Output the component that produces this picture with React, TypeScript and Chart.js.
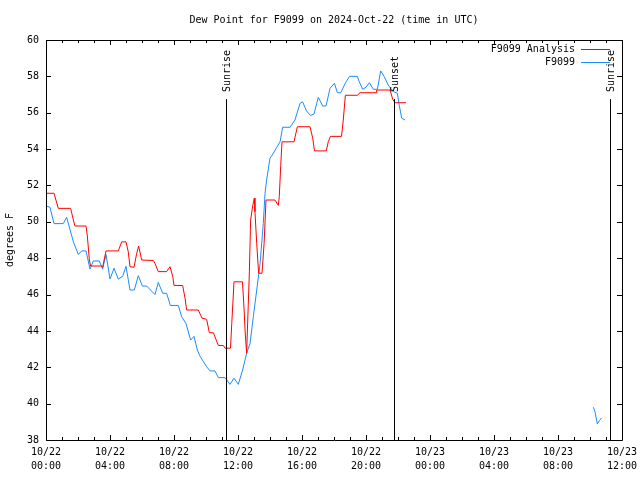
import React, { useEffect, useRef } from "react";
import { Chart, registerables } from "chart.js";

Chart.register(...registerables);

const TITLE = "Dew Point for F9099 on 2024-Oct-22 (time in UTC)";
const Y_TITLE = "degrees F";
const FONT = "'DejaVu Sans Mono', 'Liberation Mono', monospace";

const X_MIN = 0;
const X_MAX = 36;
const X_TICK_HOURS = [0, 4, 8, 12, 16, 20, 24, 28, 32, 36];
const X_TICK_LABELS = [
  ["10/22", "00:00"],
  ["10/22", "04:00"],
  ["10/22", "08:00"],
  ["10/22", "12:00"],
  ["10/22", "16:00"],
  ["10/22", "20:00"],
  ["10/23", "00:00"],
  ["10/23", "04:00"],
  ["10/23", "08:00"],
  ["10/23", "12:00"],
];
const Y_MIN = 38;
const Y_MAX = 60;
const Y_STEP = 2;

const ANALYSIS_LABEL = "F9099 Analysis";
const ANALYSIS_HOURS = [
  0, 0.5, 0.77, 1.54, 1.71, 1.81, 2.5, 2.58, 2.71, 2.79, 3.48, 3.54, 3.75, 4.52, 4.73, 5.0,
  5.14, 5.25, 5.5, 5.67, 5.79, 5.98, 6.71, 6.81, 7.02, 7.54, 7.75, 7.92, 8.0, 8.54, 8.69, 8.79,
  9.52, 9.75, 10.04, 10.21, 10.46, 10.77, 11.08, 11.19, 11.53, 11.61, 11.75, 12.28, 12.38, 12.44,
  12.54, 12.64, 12.71, 12.79, 12.92, 13.02, 13.06, 13.17, 13.29, 13.5, 13.63, 13.75, 14.31, 14.52,
  14.58, 14.67, 14.75, 15.5, 15.71, 16.5, 16.67, 16.78, 17.52, 17.64, 17.78, 18.47, 18.58, 18.71,
  19.46, 19.63, 20.63, 20.67, 21.5, 21.67, 21.81, 22.5,
];
const ANALYSIS_VALUES = [
  51.57, 51.57, 50.74, 50.74, 50.1, 49.77, 49.77, 49.27, 47.9, 47.57, 47.57, 47.5, 48.4, 48.4, 48.9, 48.9,
  48.36, 47.53, 47.5, 48.27, 48.67, 47.9, 47.87, 47.72, 47.26, 47.26, 47.53, 47.0, 46.5, 46.5, 45.8, 45.15,
  45.15, 44.7, 44.64, 43.9, 43.9, 43.2, 43.2, 43.05, 43.05, 44.4, 46.7, 46.7, 45.2, 44.05,
  42.77, 45.4, 47.25, 50.1, 50.9, 51.3, 50.56, 48.8, 47.17, 47.17, 48.8, 51.2, 51.2, 50.9,
  51.38, 53.1, 54.4, 54.4, 55.23, 55.23, 54.6, 53.9, 53.9, 54.4, 54.7, 54.7, 55.6, 56.96,
  56.96, 57.1, 57.1, 57.25, 57.25, 56.74, 56.55, 56.55,
];

const OBS_LABEL = "F9099";
const OBS_HOURS = [
  0, 0.25, 0.5, 1.08, 1.29, 1.71, 2.02, 2.23, 2.5, 2.75, 2.96, 3.33, 3.54, 3.75, 4.0, 4.25,
  4.52, 4.79, 5.0, 5.25, 5.52, 5.77, 6.02, 6.29, 6.81, 7.02, 7.29, 7.54, 7.77, 8.27, 8.48, 8.75,
  9.04, 9.25, 9.46, 9.63, 10.04, 10.25, 10.56, 10.77, 11.19, 11.5, 11.75, 12.02, 12.29, 12.54,
  12.75, 12.96, 13.17, 13.38, 13.58, 13.69, 13.79, 14.0, 14.21, 14.42, 14.63, 14.79, 15.25, 15.56,
  15.88, 16.04, 16.28, 16.53, 16.75, 17.02, 17.29, 17.5, 17.75, 18.03, 18.21, 18.42, 18.72, 18.97,
  19.46, 19.58, 19.79, 20.0, 20.21, 20.46, 20.71, 20.92, 21.13, 21.39, 21.71, 21.96, 22.08, 22.23,
  22.44, 28, 34.21, 34.31, 34.46, 34.58, 34.73,
];
const OBS_VALUES = [
  50.87, 50.8, 49.9, 49.9, 50.25, 48.9, 48.2, 48.4, 48.4, 47.4, 47.85, 47.85, 47.4, 48.2, 46.85, 47.45,
  46.85, 47.0, 47.55, 46.25, 46.25, 47.04, 46.47, 46.47, 46.0, 46.67, 46.07, 46.07, 45.4, 45.4, 44.78, 44.4,
  43.5, 43.7, 42.95, 42.6, 42.03, 41.8, 41.8, 41.43, 41.43, 41.06, 41.4, 41.06, 41.85, 42.77,
  43.3, 44.8, 46.25, 47.7, 49.9, 51.57, 52.3, 53.5, 53.77, 54.1, 54.4, 55.2, 55.2, 55.6,
  56.52, 56.6, 56.1, 55.85, 55.93, 56.85, 56.37, 56.37, 57.34, 57.62, 57.1, 57.1, 57.65, 58.0,
  58.0, 57.7, 57.29, 57.4, 57.65, 57.29, 57.29, 58.3, 58.0, 57.52, 57.16, 57.07, 56.4, 55.7,
  55.6, null, 39.8, 39.56, 38.88, 39.06, 39.22,
];

const EVENT_LABELS = ["Sunrise", "Sunset", "Sunrise"];
const EVENT_HOURS = [11.22, 21.77, 35.23];
const EVENT_LINE_TOP = 56.75;

const ANALYSIS_COLOR = "#ff0000";
const OBS_COLOR = "#1a8cff";

const decorPlugin = {
  id: "decor",
  afterDraw(chart: any) {
    const ctx = chart.ctx;
    const area = chart.chartArea;
    const xs = chart.scales.x;
    const ys = chart.scales.y;
    ctx.save();
    ctx.strokeStyle = "#000";
    ctx.fillStyle = "#000";
    ctx.lineWidth = 1;

    // frame
    ctx.beginPath();
    ctx.rect(Math.round(area.left) + 0.5, Math.round(area.top) + 0.5,
      Math.round(area.right - area.left), Math.round(area.bottom - area.top));
    ctx.stroke();

    // x ticks (major every 4h, minor every hour), inward on bottom and top
    ctx.beginPath();
    for (let h = X_MIN; h <= X_MAX; h += 1) {
      const px = Math.round(xs.getPixelForValue(h)) + 0.5;
      const len = X_TICK_HOURS.includes(h) ? 5 : 3;
      ctx.moveTo(px, Math.round(area.bottom));
      ctx.lineTo(px, Math.round(area.bottom) - len);
      ctx.moveTo(px, Math.round(area.top));
      ctx.lineTo(px, Math.round(area.top) + len);
    }
    // y ticks
    for (let v = Y_MIN; v <= Y_MAX; v += Y_STEP) {
      const py = Math.round(ys.getPixelForValue(v)) + 0.5;
      ctx.moveTo(Math.round(area.left), py);
      ctx.lineTo(Math.round(area.left) + 5, py);
      ctx.moveTo(Math.round(area.right), py);
      ctx.lineTo(Math.round(area.right) - 5, py);
    }
    ctx.stroke();

    // event lines with rotated labels
    ctx.font = `10px ${FONT}`;
    EVENT_HOURS.forEach((h, i) => {
      const px = Math.round(xs.getPixelForValue(h)) + 0.5;
      const top = ys.getPixelForValue(EVENT_LINE_TOP);
      ctx.beginPath();
      ctx.moveTo(px, top);
      ctx.lineTo(px, area.bottom);
      ctx.stroke();
      ctx.save();
      ctx.translate(px + 1, top - 7);
      ctx.rotate(-Math.PI / 2);
      ctx.textAlign = "left";
      ctx.textBaseline = "middle";
      ctx.fillText(EVENT_LABELS[i], 0, 0);
      ctx.restore();
    });

    // legend
    const legend = [
      { label: ANALYSIS_LABEL, color: ANALYSIS_COLOR },
      { label: OBS_LABEL, color: OBS_COLOR },
    ];
    legend.forEach((item, i) => {
      const y = Math.round(area.top) + 9 + i * 13;
      ctx.fillStyle = "#000";
      ctx.textAlign = "right";
      ctx.textBaseline = "middle";
      ctx.fillText(item.label, area.right - 47, y);
      ctx.strokeStyle = item.color;
      ctx.beginPath();
      ctx.moveTo(area.right - 41, y + 0.5);
      ctx.lineTo(area.right - 12, y + 0.5);
      ctx.stroke();
    });

    // title
    ctx.fillStyle = "#000";
    ctx.textAlign = "center";
    ctx.textBaseline = "middle";
    ctx.fillText(TITLE, (area.left + area.right) / 2, 20);

    // y title
    ctx.save();
    ctx.translate(10, (area.top + area.bottom) / 2);
    ctx.rotate(-Math.PI / 2);
    ctx.textAlign = "center";
    ctx.textBaseline = "middle";
    ctx.fillText(Y_TITLE, 0, 0);
    ctx.restore();

    ctx.restore();
  },
};

export default function App() {
  const ref = useRef<HTMLCanvasElement>(null);
  useEffect(() => {
    document.body.style.margin = "0";
    const canvas = ref.current;
    if (!canvas) return;
    const chart = new Chart(canvas, {
      type: "line",
      data: {
        datasets: [
          {
            label: ANALYSIS_LABEL,
            data: ANALYSIS_HOURS.map((h, i) => ({ x: h, y: ANALYSIS_VALUES[i] })),
            borderColor: ANALYSIS_COLOR,
            borderWidth: 1,
            pointRadius: 0,
            tension: 0,
            spanGaps: false,
          },
          {
            label: OBS_LABEL,
            data: OBS_HOURS.map((h, i) => ({ x: h, y: OBS_VALUES[i] })),
            borderColor: OBS_COLOR,
            borderWidth: 1,
            pointRadius: 0,
            tension: 0,
            spanGaps: false,
          },
        ],
      },
      options: {
        animation: false,
        responsive: false,
        devicePixelRatio: 1,
        layout: { padding: { top: 40, right: 18, left: 0, bottom: 0 } },
        plugins: {
          legend: { display: false },
          tooltip: { enabled: false },
          title: { display: false },
        },
        scales: {
          x: {
            type: "linear",
            min: X_MIN,
            max: X_MAX,
            grid: { display: false, drawTicks: false },
            border: { display: false },
            afterBuildTicks: (scale: any) => {
              scale.ticks = X_TICK_HOURS.map((v) => ({ value: v }));
            },
            afterFit: (scale: any) => {
              scale.height = 40;
              scale.paddingLeft = 0;
              scale.paddingRight = 0;
            },
            ticks: {
              autoSkip: false,
              maxRotation: 0,
              minRotation: 0,
              padding: 6,
              color: "#000",
              font: { family: FONT, size: 10, lineHeight: 1.35 },
              callback: (value: any) => {
                const idx = X_TICK_HOURS.indexOf(Number(value));
                return idx >= 0 ? X_TICK_LABELS[idx] : "";
              },
            },
          },
          y: {
            type: "linear",
            min: Y_MIN,
            max: Y_MAX,
            grid: { display: false, drawTicks: false },
            border: { display: false },
            afterFit: (scale: any) => {
              scale.width = 46;
              scale.paddingTop = 0;
              scale.paddingBottom = 0;
            },
            ticks: {
              stepSize: Y_STEP,
              padding: 7,
              color: "#000",
              font: { family: FONT, size: 10 },
            },
          },
        },
      },
      plugins: [decorPlugin],
    });
    return () => chart.destroy();
  }, []);
  return (
    <div style={{ position: "absolute", left: 0, top: 0, width: 640, height: 480, background: "#fff" }}>
      <canvas ref={ref} width={640} height={480} style={{ width: 640, height: 480 }} />
    </div>
  );
}
